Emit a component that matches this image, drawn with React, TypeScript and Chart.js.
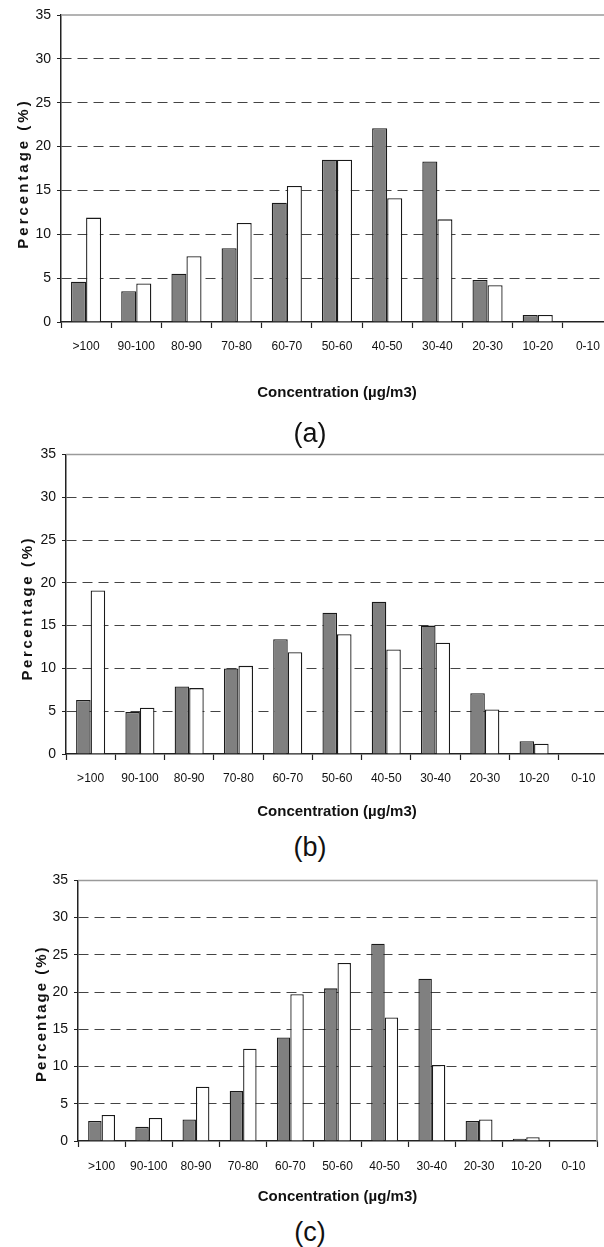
import React, { useEffect, useRef } from 'react';
import { Chart, registerables } from 'chart.js';

Chart.register(...registerables);

// ---------- data ----------
const categories = ['>100', '90-100', '80-90', '70-80', '60-70', '50-60', '40-50', '30-40', '20-30', '10-20', '0-10'];

const panelAGray = [4.6, 3.5, 5.5, 8.4, 13.6, 18.5, 22.1, 18.3, 4.8, 0.8, 0];
const panelAWhite = [11.9, 4.4, 7.5, 11.3, 15.5, 18.5, 14.1, 11.7, 4.2, 0.8, 0];

const panelBGray = [6.3, 4.9, 7.9, 10.0, 13.4, 16.5, 17.8, 15.0, 7.1, 1.5, 0];
const panelBWhite = [19.1, 5.4, 7.7, 10.3, 11.9, 14.0, 12.2, 13.0, 5.2, 1.2, 0];

const panelCGray = [2.7, 1.9, 2.9, 6.7, 13.9, 20.5, 26.5, 21.8, 2.7, 0.3, 0];
const panelCWhite = [3.5, 3.1, 7.3, 12.4, 19.7, 23.9, 16.6, 10.2, 2.9, 0.5, 0];

const yMin = 0;
const yMax = 35;
const yStep = 5;

const xTitle = 'Concentration (µg/m3)';
const yTitle = 'Percentage (%)';
const captions = ['(a)', '(b)', '(c)'];

// ---------- styles ----------
const SANS = "'Liberation Sans', Arial, Helvetica, sans-serif";

type PanelCfg = {
  top: number;
  height: number;
  padTop: number;
  padRight: number;
  yAxisW: number;
  xAxisH: number;
  catPct: number;
  xLabelPad: number;
  yTitleX: number;
  yTitleDy: number;
  ySpacing: number;
  rightBorder: boolean;
};

const cfgA: PanelCfg = { top: 0, height: 402, padTop: 15, padRight: 7, yAxisW: 61, xAxisH: 80, catPct: 0.6, xLabelPad: 11.5, yTitleX: 24, yTitleDy: 5, ySpacing: 3, rightBorder: false };
const cfgB: PanelCfg = { top: 440, height: 381, padTop: 13, padRight: 12, yAxisW: 66, xAxisH: 67, catPct: 0.59, xLabelPad: 11, yTitleX: 27.5, yTitleDy: 4, ySpacing: 2.6, rightBorder: false };
const cfgC: PanelCfg = { top: 866, height: 340, padTop: 14, padRight: 23, yAxisW: 78, xAxisH: 65, catPct: 0.57, xLabelPad: 12.5, yTitleX: 42, yTitleDy: 3, ySpacing: 2, rightBorder: true };

const captionCenters = [433, 847, 1232];

const framePlugin = {
  id: 'frameAndTitle',
  afterDraw(chart: any, _args: any, opts: any) {
    const { ctx, chartArea } = chart;
    ctx.save();
    ctx.strokeStyle = '#9a9a9a';
    ctx.lineWidth = 1.5;
    ctx.beginPath();
    ctx.moveTo(chartArea.left, chartArea.top);
    ctx.lineTo(chartArea.right, chartArea.top);
    if (opts.rightBorder) {
      ctx.lineTo(chartArea.right, chartArea.bottom);
    }
    ctx.stroke();
    ctx.restore();

    ctx.save();
    ctx.translate(opts.titleX, (chartArea.top + chartArea.bottom) / 2 + opts.titleDy);
    ctx.rotate(-Math.PI / 2);
    ctx.font = `bold 15px ${SANS}`;
    (ctx as any).letterSpacing = `${opts.spacing}px`;
    ctx.fillStyle = '#111';
    ctx.textAlign = 'center';
    ctx.textBaseline = 'middle';
    ctx.fillText(yTitle, 0, 0);
    ctx.restore();
  },
};

function Panel({ gray, white, cfg }: { gray: number[]; white: number[]; cfg: PanelCfg }) {
  const ref = useRef<HTMLCanvasElement>(null);
  useEffect(() => {
    if (!ref.current) return;
    const chart = new Chart(ref.current, {
      type: 'bar',
      data: {
        labels: categories,
        datasets: [
          { data: gray, backgroundColor: '#808080', borderColor: '#1a1a1a', borderWidth: 1.3 },
          { data: white, backgroundColor: '#ffffff', borderColor: '#1a1a1a', borderWidth: 1.3 },
        ],
      },
      options: {
        responsive: false,
        animation: false,
        devicePixelRatio: 1,
        layout: { padding: { top: cfg.padTop, right: cfg.padRight, left: 0, bottom: 0 } },
        datasets: { bar: { barPercentage: 1, categoryPercentage: cfg.catPct } },
        plugins: {
          legend: { display: false },
          tooltip: { enabled: false },
          frameAndTitle: {
            titleX: cfg.yTitleX,
            titleDy: cfg.yTitleDy,
            spacing: cfg.ySpacing,
            rightBorder: cfg.rightBorder,
          },
        } as any,
        scales: {
          x: {
            grid: { drawOnChartArea: false, drawTicks: true, tickLength: 6, tickColor: '#222', tickWidth: 1.2, offset: true },
            border: { color: '#222', width: 1.5 },
            ticks: { color: '#111', font: { family: SANS, size: 12 }, padding: cfg.xLabelPad, maxRotation: 0, autoSkip: false },
            title: { display: true, text: xTitle, color: '#111', font: { family: SANS, size: 15, weight: 'bold' }, padding: 0 },
            afterFit: (s: any) => { s.height = cfg.xAxisH; },
          },
          y: {
            min: yMin,
            max: yMax,
            ticks: { stepSize: yStep, color: '#111', font: { family: SANS, size: 14 }, padding: 6 },
            grid: {
              color: (c: any) => (c.tick && (c.tick.value === yMin || c.tick.value === yMax) ? 'rgba(0,0,0,0)' : '#444'),
              tickColor: '#222',
              tickLength: 4,
              lineWidth: 1,
            },
            border: { color: '#222', width: 1.5, dash: [10, 6] },
            afterFit: (s: any) => { s.width = cfg.yAxisW; },
          },
        },
      } as any,
      plugins: [framePlugin],
    });
    return () => chart.destroy();
  }, []);
  return <canvas ref={ref} width={620} height={cfg.height} style={{ position: 'absolute', left: 0, top: cfg.top }} />;
}

export default function App() {
  return (
    <div style={{ position: 'absolute', left: 0, top: 0, width: 604, height: 1247, overflow: 'hidden', background: '#fff' }}>
      <Panel gray={panelAGray} white={panelAWhite} cfg={cfgA} />
      <Panel gray={panelBGray} white={panelBWhite} cfg={cfgB} />
      <Panel gray={panelCGray} white={panelCWhite} cfg={cfgC} />
      {captions.map((c, i) => (
        <div
          key={c}
          style={{
            position: 'absolute',
            left: 0,
            width: 620,
            top: captionCenters[i] - 16,
            height: 32,
            lineHeight: '32px',
            textAlign: 'center',
            fontFamily: SANS,
            fontSize: 27,
            color: '#111',
          }}
        >
          {c}
        </div>
      ))}
    </div>
  );
}
